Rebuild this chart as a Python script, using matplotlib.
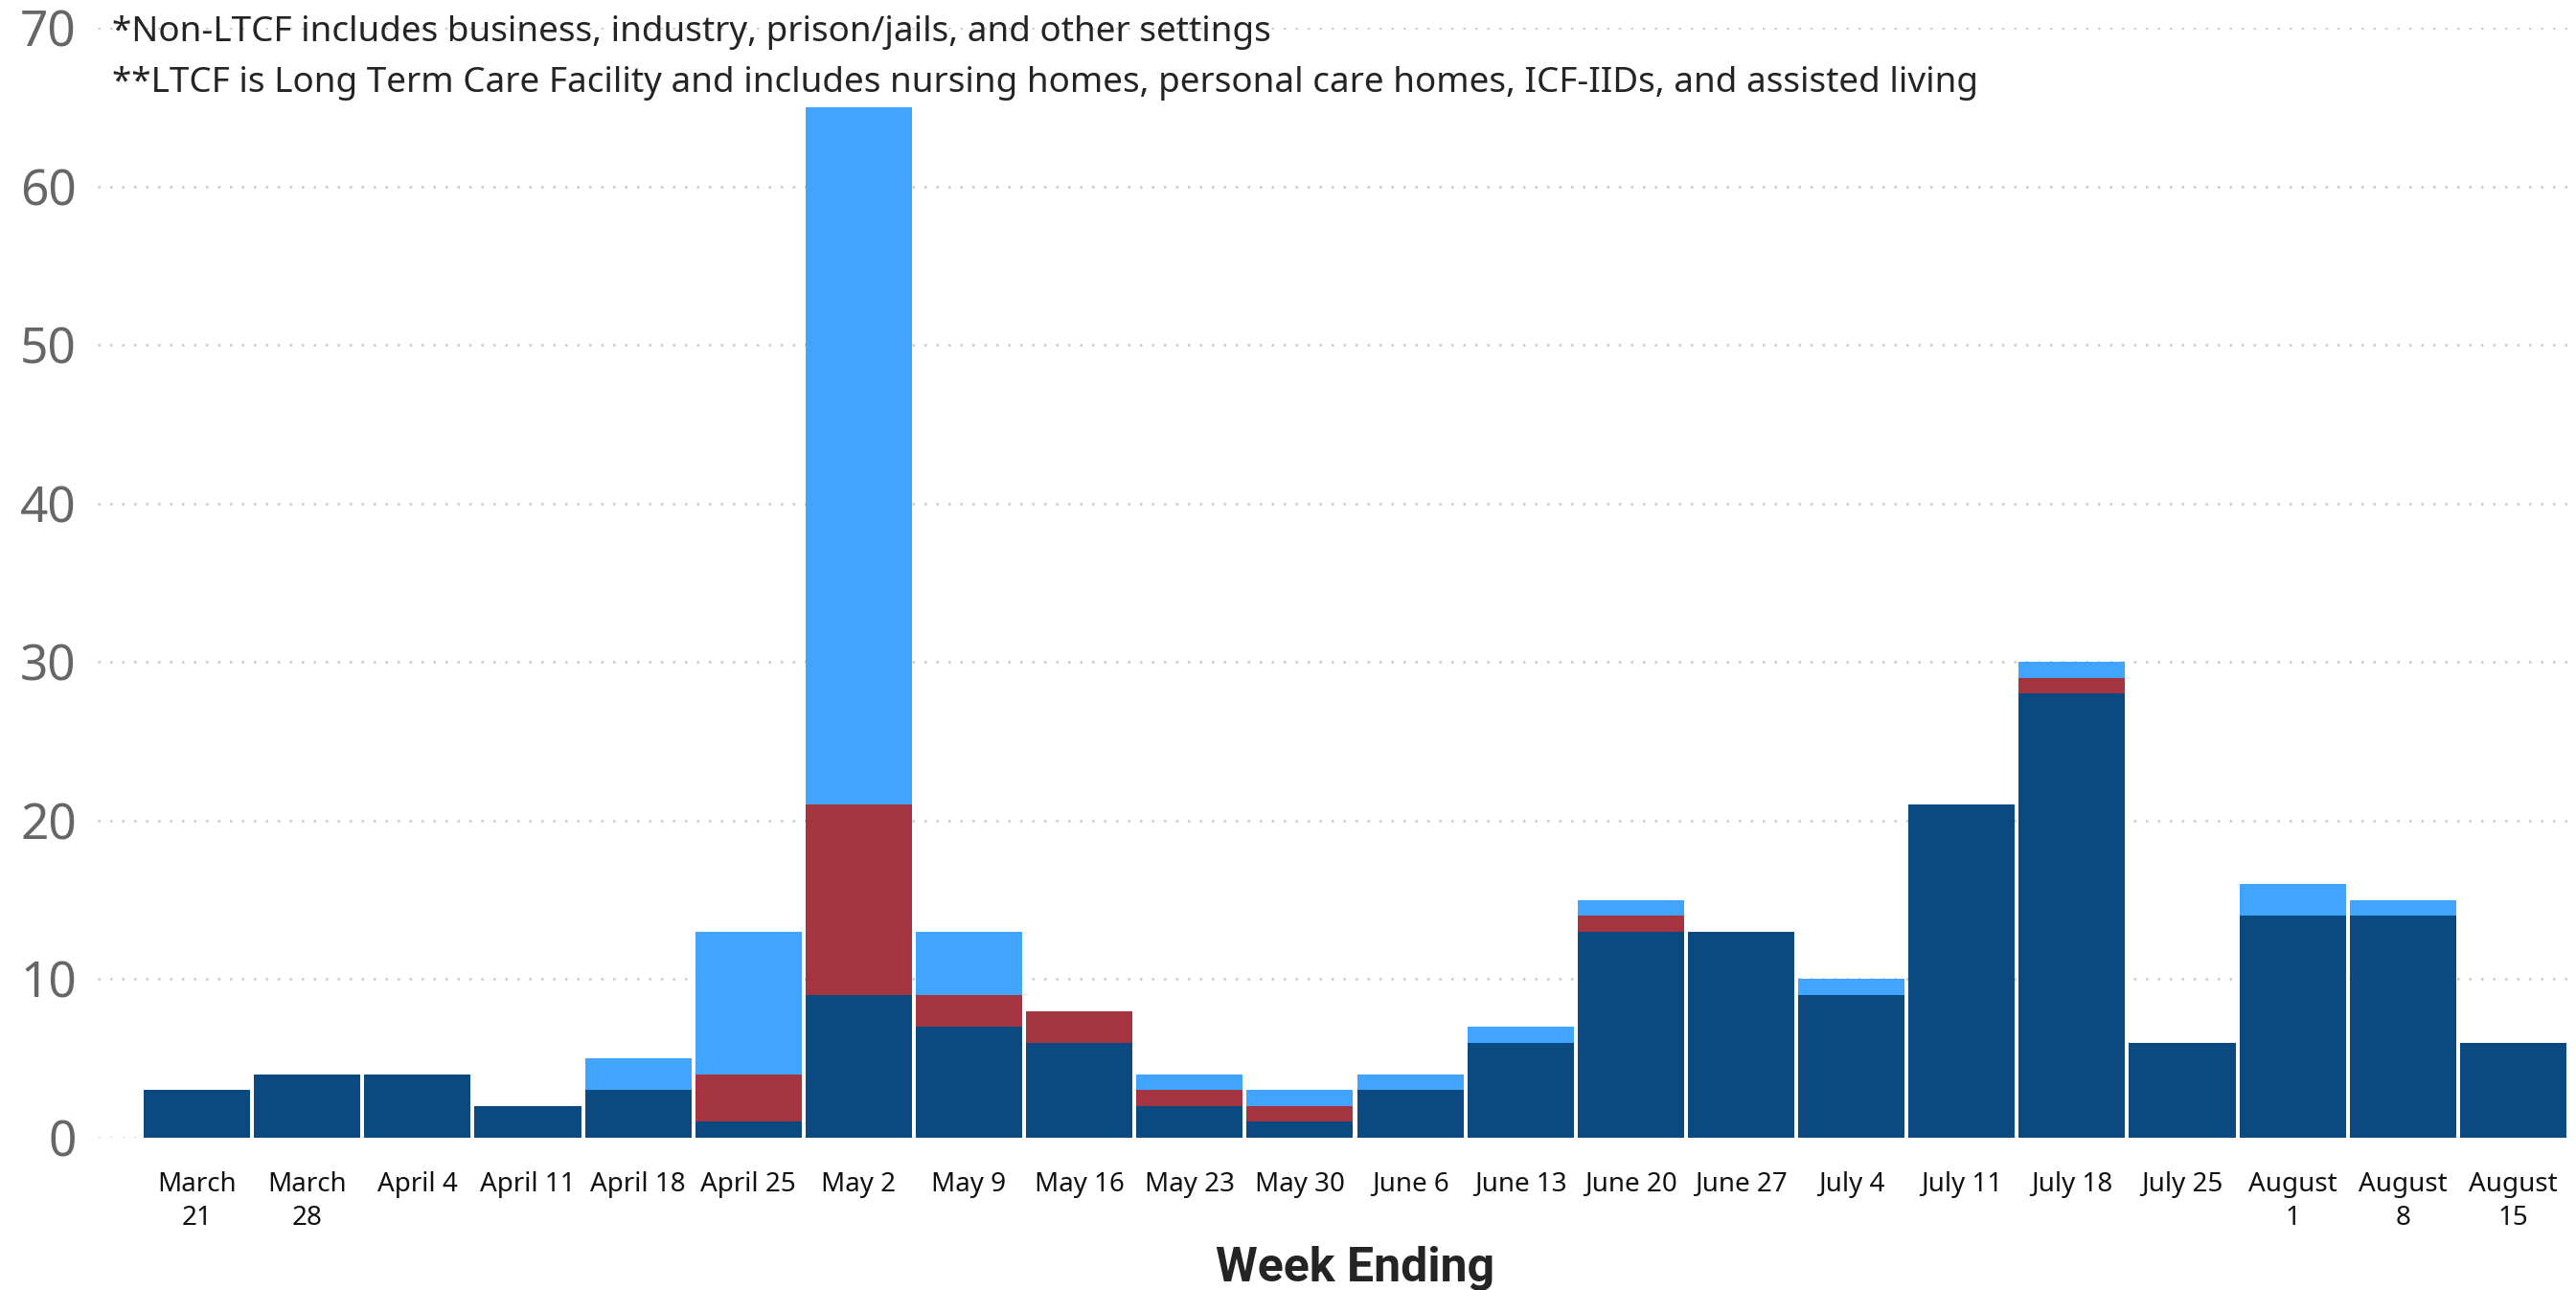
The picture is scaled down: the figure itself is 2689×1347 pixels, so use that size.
import matplotlib
matplotlib.use('Agg')
import matplotlib.pyplot as plt
import numpy as np

plt.rcParams['font.family'] = ['Noto Sans', 'DejaVu Sans']

# Week-ending labels (two-line where the original wraps)
weeks = ['March\n21', 'March\n28', 'April 4', 'April 11', 'April 18', 'April 25',
         'May 2', 'May 9', 'May 16', 'May 23', 'May 30', 'June 6', 'June 13',
         'June 20', 'June 27', 'July 4', 'July 11', 'July 18', 'July 25',
         'August\n1', 'August\n8', 'August\n15']

# Stacked series (bottom -> top)
dark_vals  = [3, 4, 4, 2, 3, 1, 9, 7, 6, 2, 1, 3, 6, 13, 13, 9, 21, 28, 6, 14, 14, 6]
red_vals   = [0, 0, 0, 0, 0, 3, 12, 2, 2, 1, 1, 0, 0, 1, 0, 0, 0, 1, 0, 0, 0, 0]
light_vals = [0, 0, 0, 0, 2, 9, 44, 4, 0, 1, 1, 1, 1, 1, 0, 1, 0, 1, 0, 2, 1, 0]

yticks = [0, 10, 20, 30, 40, 50, 60, 70]

notes = ['*Non-LTCF includes business, industry, prison/jails, and other settings',
         '**LTCF is Long Term Care Facility and includes nursing homes, personal care homes, ICF-IIDs, and assisted living']

c_dark = '#0B4A80'
c_red = '#A4343F'
c_light = '#41A4FF'

W, H = 2689, 1347
fig = plt.figure(figsize=(W / 100, H / 100), dpi=100)
ax_l = 102
ax = fig.add_axes([ax_l / W, 1 - 1188 / H, (2687 - ax_l) / W, (1188 - 29) / H])

x = np.arange(len(weeks))
dark = np.array(dark_vals)
red = np.array(red_vals)
light = np.array(light_vals)
bw = 0.965

ax.bar(x, dark, bw, color=c_dark, linewidth=0, zorder=2)
ax.bar(x, red, bw, bottom=dark, color=c_red, linewidth=0, zorder=2)
ax.bar(x, light, bw, bottom=dark + red, color=c_light, linewidth=0, zorder=2)

slot = (2681 - 148) / len(weeks)
ax.set_xlim(-0.5 - (148 - ax_l) / slot, len(weeks) - 0.5 + 6 / slot)
ax.set_ylim(0, 70)

ax.set_yticks(yticks)
ax.set_yticklabels([str(v) for v in yticks], fontsize=37, color='#666666')
ax.set_xticks(x)
ax.set_xticklabels(weeks, fontsize=20, color='#111111', linespacing=1.35)
ax.tick_params(axis='both', length=0)
ax.tick_params(axis='y', pad=16)
ax.tick_params(axis='x', pad=25)

ax.grid(axis='y', color='#c8c8c8', linestyle=(0, (1, 4)), linewidth=1.8, zorder=0)
ax.set_axisbelow(True)
for s in ax.spines.values():
    s.set_visible(False)

fig.text(0.5 * (148 + 2681) / W, 1 - 1324 / H, 'Week Ending', ha='center', va='center',
         fontsize=36, fontweight='bold', family=['Roboto', 'DejaVu Sans'], color='#252423')

fig.text(117 / W, 1 - 34 / H, notes[0], ha='left', va='center', fontsize=26.5, color='#252423')
fig.text(117 / W, 1 - 87 / H, notes[1], ha='left', va='center', fontsize=26.5, color='#252423')

fig.savefig('out.png', dpi=100)
